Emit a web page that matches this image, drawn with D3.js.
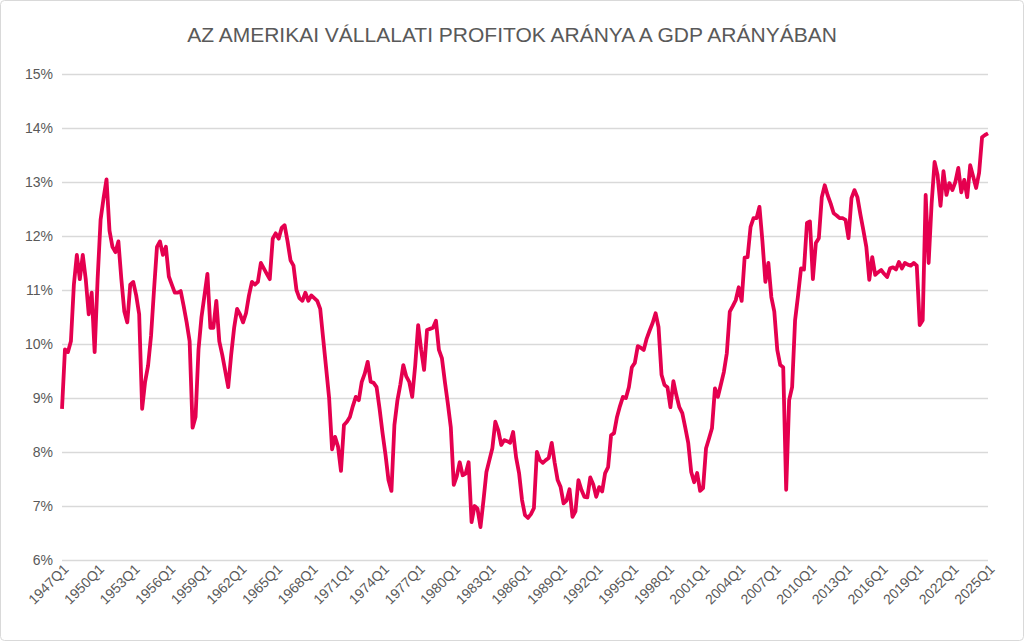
<html>
<head>
<script src="https://cdn.jsdelivr.net/npm/d3@7"></script>
<style>
  body { margin: 0; background: #fff; }
  svg { font-family: "Liberation Sans", Arial, sans-serif; }
</style>
</head>
<body>
<svg id="chart" width="1024" height="641"></svg>
<script>
const title = "AZ AMERIKAI VÁLLALATI PROFITOK ARÁNYA A GDP ARÁNYÁBAN"
const startYear = 1947
const yTicks = [6, 7, 8, 9, 10, 11, 12, 13, 14, 15]
// quarterly corporate profits / GDP (%), one row per year
const profitShare = [
  8.8, 9.9, 9.85, 10.05,
  11.1, 11.65, 11.2, 11.65,
  11.2, 10.55, 10.95, 9.85,
  11.2, 12.3, 12.7, 13.05,
  12.1, 11.8, 11.7, 11.9,
  11.2, 10.6, 10.4, 11.1,
  11.15, 10.9, 10.55, 8.8,
  9.3, 9.6, 10.15, 11.0,
  11.8, 11.9, 11.65, 11.8,
  11.25, 11.1, 10.95, 10.95,
  10.98, 10.7, 10.4, 10.05,
  8.45, 8.65, 9.9, 10.5,
  10.9, 11.3, 10.3, 10.3,
  10.8, 10.05, 9.8, 9.5,
  9.2, 9.8, 10.3, 10.65,
  10.55, 10.4, 10.57, 10.9,
  11.15, 11.1, 11.15, 11.5,
  11.4, 11.3, 11.2, 11.95,
  12.05, 11.95, 12.15, 12.2,
  11.9, 11.55, 11.45, 11.0,
  10.85, 10.8, 10.95, 10.8,
  10.9, 10.85, 10.8, 10.65,
  10.1, 9.55, 9.0, 8.05,
  8.28, 8.1, 7.65, 8.5,
  8.56, 8.65, 8.85, 9.02,
  8.96, 9.3, 9.45, 9.67,
  9.3, 9.28, 9.2, 8.8,
  8.35, 7.95, 7.48, 7.28,
  8.5, 8.95, 9.25, 9.61,
  9.4, 9.3, 9.02, 9.6,
  10.35, 9.9, 9.52, 10.26,
  10.28, 10.3, 10.43, 9.89,
  9.74, 9.3, 8.9, 8.46,
  7.39, 7.55, 7.81, 7.57,
  7.6, 7.81, 6.7, 7.0,
  6.95, 6.61, 7.1, 7.63,
  7.85, 8.07, 8.56, 8.4,
  8.13, 8.22, 8.2, 8.17,
  8.37, 7.9, 7.61, 7.11,
  6.83, 6.78, 6.85, 6.96,
  8.0, 7.85, 7.8, 7.85,
  7.89, 8.17, 7.8, 7.48,
  7.35, 7.05, 7.1, 7.31,
  6.8, 6.9, 7.48, 7.3,
  7.17, 7.16, 7.53, 7.4,
  7.17, 7.35, 7.27, 7.61,
  7.72, 8.31, 8.35, 8.65,
  8.85, 9.02, 9.0, 9.2,
  9.57, 9.65, 9.96, 9.93,
  9.89, 10.1, 10.25, 10.39,
  10.57, 10.31, 9.43, 9.24,
  9.2, 8.83, 9.31, 9.05,
  8.83, 8.72, 8.45, 8.17,
  7.63, 7.44, 7.61, 7.28,
  7.33, 8.07, 8.25, 8.44,
  9.18, 9.02, 9.25, 9.48,
  9.83, 10.6, 10.7, 10.81,
  11.05, 10.8, 11.6, 11.61,
  12.17, 12.33, 12.33, 12.54,
  11.9, 11.15, 11.5, 10.87,
  10.6, 9.89, 9.61, 9.57,
  7.3, 8.96, 9.2, 10.44,
  10.9, 11.4, 11.38, 12.24,
  12.27, 11.2, 11.87, 11.96,
  12.72, 12.94, 12.75, 12.6,
  12.42, 12.38, 12.33, 12.33,
  12.3, 11.96, 12.7, 12.85,
  12.72, 12.4, 12.11, 11.8,
  11.19, 11.61, 11.28, 11.33,
  11.37, 11.3, 11.24, 11.4,
  11.42, 11.38, 11.52, 11.4,
  11.5, 11.47, 11.45, 11.5,
  11.45, 10.35, 10.44, 12.76,
  11.5, 12.6, 13.37, 13.13,
  12.56, 13.2, 12.76, 12.98,
  12.85, 13.0, 13.26, 12.81,
  13.04, 12.72, 13.31, 13.1,
  12.89, 13.17, 13.83, 13.87,
  13.9
]
const quarters = profitShare.map((_, i) => `${startYear + Math.floor(i / 4)}Q${i % 4 + 1}`)
const tickQuarters = quarters.filter((_, i) => i % 12 === 0)

const svg = d3.select("#chart")
const plotLeft = 62, plotRight = 988, plotTop = 74, plotBottom = 560

svg.append("rect")
  .attr("x", 0.5).attr("y", 0.5).attr("width", 1023).attr("height", 640)
  .attr("rx", 4).attr("fill", "#fff").attr("stroke", "#d9d9d9")

const x = d3.scalePoint().domain(quarters).range([plotLeft, plotRight])
const y = d3.scaleLinear().domain([6, 15]).range([plotBottom, plotTop])

svg.append("text")
  .attr("x", 512).attr("y", 42).attr("text-anchor", "middle")
  .attr("font-size", 21).attr("fill", "#595959")
  .text(title)

const yAxis = svg.append("g")
  .attr("transform", `translate(${plotLeft},0)`)
  .call(d3.axisLeft(y).tickValues(yTicks).tickSize(-(plotRight - plotLeft)).tickFormat(d => d + "%"))
yAxis.select(".domain").remove()
yAxis.selectAll(".tick line").attr("stroke", "#d9d9d9").attr("stroke-width", 1.3)
yAxis.selectAll(".tick text").attr("x", -9).attr("font-size", 14).attr("fill", "#595959")

const xAxis = svg.append("g")
  .attr("transform", `translate(0,${plotBottom})`)
  .call(d3.axisBottom(x).tickValues(tickQuarters).tickSize(0))
xAxis.select(".domain").remove()
xAxis.selectAll(".tick text")
  .attr("font-size", 14).attr("fill", "#595959")
  .attr("text-anchor", "end")
  .attr("dy", 0).attr("y", 0)
  .attr("transform", "translate(7,10) rotate(-45)")

svg.append("path")
  .datum(profitShare)
  .attr("fill", "none")
  .attr("stroke", "#e5004f")
  .attr("stroke-width", 3.8)
  .attr("stroke-linejoin", "round")
  .attr("d", d3.line().x((d, i) => x(quarters[i])).y(d => y(d)))
</script>
</body>
</html>
